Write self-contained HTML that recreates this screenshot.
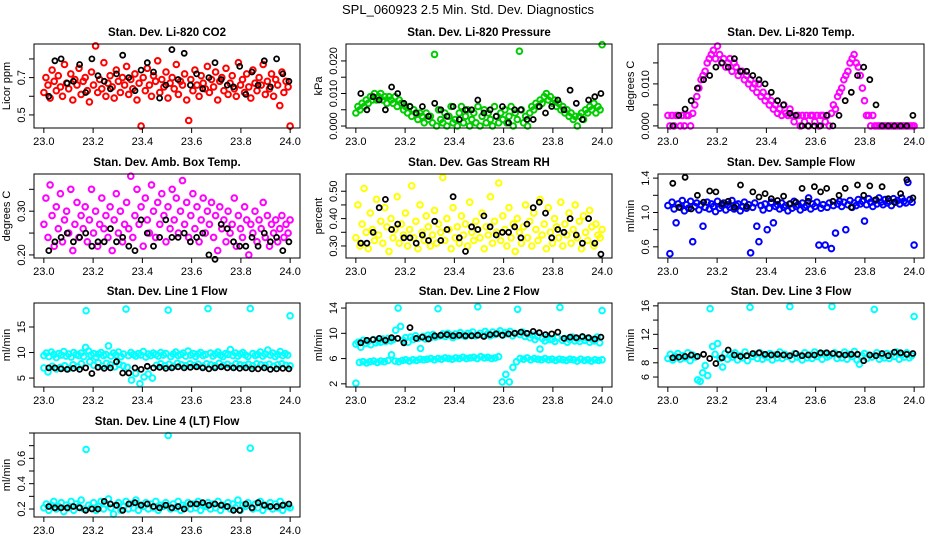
<!DOCTYPE html>
<html><head><meta charset="utf-8"><style>
html,body{margin:0;padding:0;background:#fff;}
svg{display:block;font-family:"Liberation Sans",Arial,sans-serif;}
</style></head><body>
<svg id="chart" width="936" height="540" viewBox="0 0 936 540">
<text x="468" y="14" text-anchor="middle" font-size="13">SPL_060923  2.5 Min. Std. Dev. Diagnostics</text>
</svg>
<script>
// ---- data ----
const xTicks = [23.0, 23.2, 23.4, 23.6, 23.8, 24.0];
const xTickLabels = ["23.0", "23.2", "23.4", "23.6", "23.8", "24.0"];

const co2Red = [0.62,0.70,0.66,0.59,0.74,0.68,0.63,0.71,0.65,0.60,0.77,0.67,0.64,0.72,0.58,0.69,0.66,0.75,0.61,0.68,
0.70,0.63,0.57,0.73,0.66,0.87,0.62,0.69,0.64,0.78,0.60,0.67,0.71,0.65,0.59,0.74,0.68,0.62,0.70,0.66,
0.76,0.61,0.69,0.64,0.72,0.58,0.67,0.44,0.70,0.63,0.75,0.66,0.60,0.71,0.68,0.79,0.62,0.69,0.65,0.73,
0.59,0.67,0.70,0.64,0.77,0.61,0.68,0.66,0.72,0.58,0.47,0.69,0.63,0.74,0.66,0.60,0.71,0.67,0.64,0.76,
0.62,0.69,0.65,0.73,0.58,0.68,0.70,0.63,0.75,0.61,0.67,0.71,0.64,0.60,0.78,0.66,0.69,0.62,0.72,0.65,
0.59,0.74,0.67,0.63,0.70,0.66,0.77,0.61,0.68,0.64,0.72,0.60,0.69,0.66,0.55,0.73,0.62,0.68,0.65,0.44];
const co2Black = [0.60,0.79,0.80,0.67,0.68,0.77,0.62,0.80,0.71,0.68,0.64,0.72,0.82,0.70,0.63,0.74,0.78,0.73,0.59,0.66,0.85,0.69,0.83,0.66,0.72,0.64,0.70,0.78,0.69,0.66,0.65,0.76,0.61,0.73,0.66,0.79,0.65,0.80,0.72,0.68];

const presGreen = [0.004,0.006,0.005,0.007,0.006,0.008,0.007,0.009,0.008,0.010,0.008,0.009,
0.010,0.008,0.009,0.007,0.009,0.008,0.007,0.009,0.006,0.008,0.007,0.005,
0.006,0.004,0.006,0.003,0.005,0.004,0.002,0.004,0.003,0.001,0.004,0.002,
0.003,0.001,0.022,0.000,0.005,0.002,0.001,0.004,0.000,0.003,0.006,0.001,
0.002,0.000,0.004,0.006,0.001,0.003,0.005,0.000,0.002,0.004,0.001,0.006,
0.000,0.003,0.005,0.001,0.004,0.002,0.000,0.006,0.003,0.001,0.004,0.002,
0.005,0.001,0.003,0.006,0.000,0.004,0.002,0.023,0.005,0.001,0.003,0.000,
0.004,0.006,0.005,0.007,0.006,0.008,0.007,0.009,0.010,0.008,0.009,0.007,
0.008,0.006,0.007,0.005,0.006,0.004,0.005,0.003,0.004,0.002,0.003,0.000,
0.003,0.004,0.002,0.005,0.004,0.006,0.005,0.007,0.004,0.006,0.005,0.025];
const presBlack = [0.010,0.005,0.009,0.008,0.005,0.012,0.010,0.007,0.006,0.004,0.006,0.003,0.007,0.005,0.003,0.006,0.002,0.005,0.005,0.008,0.004,0.005,0.003,0.006,0.001,0.005,0.005,0.002,0.002,0.006,0.004,0.006,0.008,0.005,0.011,0.007,0.002,0.008,0.009,0.010];

const tempMagenta = [0.0025,0,0.0025,0,0.0025,0.0025,0,0.0025,0,0.0025,0.0025,0,
0.003,0.005,0.007,0.009,0.011,0.012,0.013,0.015,0.016,0.017,0.018,0.016,
0.019,0.017,0.015,0.016,0.014,0.015,0.016,0.013,0.015,0.014,0.012,0.013,
0.013,0.011,0.012,0.010,0.011,0.009,0.010,0.008,0.010,0.007,0.008,0.006,
0.007,0.005,0.006,0.004,0.005,0.003,0.004,0.0025,0.005,0.003,0.0025,0.004,
0.0025,0.001,0.0025,0.0025,0,0.0025,0.001,0.0025,0,0.0025,0.0025,0.001,
0.0025,0,0.0025,0.0025,0.001,0.0025,0,0.003,0.005,0.004,0.007,0.008,
0.009,0.011,0.012,0.013,0.015,0.016,0.017,0.015,0.014,0.012,0.009,0.006,
0.0025,0.0025,0,0.0025,0,0,0,0,0,0,0,0,
0,0,0,0,0,0,0,0,0,0,0,0];
const tempBlack = [0,0.0025,0.004,0.006,0.009,0.011,0.012,0.014,0.015,0.014,0.016,0.013,0.013,0.012,0.011,0.010,0.008,0.006,0.005,0.003,0.0025,0,0,0,0,0.0025,0,0.0025,0.006,0.008,0.012,0.014,0.011,0.005,0,0,0,0,0,0.0025];

const ambMagenta = [0.27,0.33,0.24,0.36,0.29,0.22,0.31,0.26,0.34,0.23,0.28,0.30,0.25,0.35,0.21,0.27,0.32,0.24,0.29,0.26,
0.31,0.23,0.28,0.35,0.25,0.30,0.22,0.27,0.33,0.26,0.29,0.24,0.31,0.21,0.28,0.34,0.25,0.30,0.23,0.27,
0.32,0.26,0.38,0.24,0.29,0.35,0.27,0.31,0.22,0.33,0.28,0.25,0.36,0.30,0.24,0.32,0.27,0.34,0.29,0.23,
0.31,0.26,0.35,0.28,0.33,0.25,0.30,0.37,0.27,0.32,0.24,0.29,0.34,0.26,0.31,0.23,0.28,0.33,0.25,0.30,
0.27,0.32,0.24,0.29,0.21,0.31,0.26,0.28,0.23,0.30,0.25,0.27,0.33,0.22,0.29,0.26,0.24,0.31,0.28,0.20,
0.27,0.25,0.30,0.23,0.28,0.26,0.32,0.24,0.29,0.22,0.27,0.25,0.28,0.23,0.26,0.29,0.24,0.27,0.25,0.28];
const ambBlack = [0.21,0.23,0.24,0.25,0.23,0.24,0.25,0.22,0.23,0.23,0.26,0.23,0.24,0.22,0.21,0.28,0.25,0.22,0.24,0.28,0.24,0.24,0.25,0.23,0.24,0.25,0.20,0.19,0.27,0.26,0.23,0.22,0.22,0.24,0.22,0.25,0.23,0.24,0.21,0.23];

const rhYellow = [0.33,0.45,0.30,0.38,0.51,0.35,0.29,0.42,0.36,0.32,0.47,0.34,0.39,0.31,0.44,0.37,0.28,0.40,0.33,0.36,
0.48,0.31,0.38,0.34,0.42,0.30,0.36,0.52,0.33,0.39,0.29,0.45,0.35,0.32,0.41,0.37,0.30,0.34,0.43,0.31,
0.38,0.35,0.55,0.32,0.40,0.36,0.29,0.44,0.33,0.37,0.31,0.41,0.34,0.38,0.30,0.46,0.35,0.32,0.39,0.36,
0.33,0.42,0.29,0.37,0.34,0.48,0.31,0.39,0.35,0.53,0.32,0.41,0.36,0.30,0.44,0.33,0.38,0.28,0.40,0.35,
0.31,0.37,0.45,0.33,0.39,0.30,0.42,0.36,0.32,0.47,0.34,0.38,0.29,0.44,0.35,0.31,0.40,0.37,0.33,0.46,
0.30,0.38,0.34,0.42,0.31,0.36,0.45,0.33,0.39,0.29,0.41,0.35,0.32,0.43,0.37,0.30,0.38,0.34,0.33,0.36];
const rhBlack = [0.31,0.31,0.35,0.44,0.47,0.36,0.38,0.33,0.33,0.31,0.34,0.32,0.39,0.32,0.36,0.48,0.33,0.28,0.37,0.36,0.41,0.37,0.34,0.35,0.35,0.37,0.33,0.38,0.44,0.46,0.42,0.33,0.36,0.35,0.40,0.34,0.31,0.40,0.31,0.27];

const sampleBlue = [1.08,0.52,1.12,1.04,0.88,1.10,1.06,1.14,1.02,1.09,1.05,1.13,0.66,1.07,1.11,1.03,1.09,0.84,1.06,1.12,
1.04,1.10,1.07,1.01,1.13,1.05,1.08,1.11,1.03,1.09,1.06,1.14,1.04,1.08,1.10,1.02,1.07,1.12,1.05,1.09,
0.53,1.06,1.11,0.84,0.66,1.08,1.03,1.10,0.80,1.05,1.12,0.88,1.07,1.09,1.04,1.11,1.06,1.08,1.02,1.10,
1.05,1.13,1.07,1.09,1.03,1.11,1.06,1.08,1.17,1.04,1.10,1.07,1.12,0.62,1.05,1.09,0.62,1.06,1.11,0.58,
1.08,0.76,1.10,1.13,1.07,1.12,0.80,1.09,1.14,1.06,1.11,1.08,1.15,1.10,1.13,0.90,1.09,1.16,1.12,1.07,
1.14,1.10,1.17,1.12,1.09,1.15,1.11,1.13,1.08,1.16,1.12,1.14,1.10,1.17,1.13,1.11,1.35,1.15,1.12,0.62];
const sampleBlack = [1.34,1.06,1.41,1.04,1.20,1.12,1.25,1.24,1.10,1.13,1.06,1.32,1.07,1.24,1.18,1.22,1.16,1.14,1.19,1.10,1.12,1.28,1.13,1.30,1.24,1.28,1.13,1.20,1.28,1.06,1.32,1.20,1.31,1.15,1.30,1.16,1.12,1.22,1.38,1.17];

const line1CyanUpper = [9.4,9.9,9.2,10.1,9.6,9.0,9.8,9.5,10.2,9.3,9.7,9.1,10.0,9.6,9.4,9.9,9.2,18.2,10.3,9.5,
9.8,9.1,9.7,10.0,9.4,9.6,11.3,9.3,9.9,9.5,10.1,9.2,9.7,18.5,9.4,10.0,9.6,9.3,9.8,9.5,
10.2,9.1,9.7,9.4,9.9,9.6,9.3,10.0,9.5,9.8,18.3,9.2,9.7,10.1,9.4,9.6,9.9,9.3,10.3,9.5,
9.8,9.2,9.7,10.0,9.4,9.6,18.6,9.9,9.3,9.7,10.1,9.5,9.2,9.8,9.6,10.6,9.4,9.9,9.3,9.7,
10.0,9.5,9.2,18.6,9.8,9.4,9.6,10.1,9.3,9.7,10.5,9.5,9.9,9.2,9.6,10.2,9.4,9.8,9.5,17.2];
const line1CyanLower = [7.0,6.2,7.3,6.8,7.1,7.4,6.9,7.6,7.2,7.8,11.0,8.2,7.5,8.0,7.3,7.9,7.6,7.2,7.7,7.4,
7.1,4.6,5.9,3.9,5.2,5.8,5.0,7.5,7.8,7.4,7.7,7.3,7.9,7.6,7.4,7.8,7.5,7.7,7.3,7.8,
7.6,7.4,7.9,7.5,7.7,7.3,7.8,7.6,7.5,7.7,7.4,7.8,7.6,7.5,7.7,7.3,7.6,7.8,7.5,7.4];
const line1Black = [7.0,7.0,6.8,6.7,6.9,6.7,7.0,5.9,7.1,6.9,7.0,8.2,6.0,6.0,7.0,6.7,7.3,7.0,7.1,6.9,7.0,7.2,7.0,7.1,7.2,7.0,6.8,7.0,7.2,7.0,7.0,6.9,7.0,6.8,6.8,7.0,6.7,6.8,6.9,6.8];

const line2CyanUpper = [8.3,8.6,7.8,8.9,8.4,8.7,8.2,9.0,8.5,8.8,8.6,9.1,8.7,9.2,8.8,9.0,10.5,14.0,11.1,8.9,
9.3,8.6,9.4,9.0,9.6,9.2,7.6,9.5,9.1,9.7,9.3,9.8,9.4,13.9,9.6,9.9,9.5,10.0,9.7,9.3,
9.9,9.6,10.1,9.7,9.5,10.0,9.8,10.2,9.6,14.2,10.0,9.7,10.3,9.9,9.6,10.2,9.8,10.0,10.4,9.7,
10.1,9.9,10.3,9.6,10.0,13.8,9.8,10.2,9.5,9.9,9.3,9.7,9.0,9.5,7.5,9.2,8.8,9.4,9.0,9.1,
8.7,9.3,14.1,8.9,9.2,8.6,9.0,9.4,8.8,9.1,8.7,9.3,8.9,9.2,8.6,9.0,8.8,9.4,8.5,13.6];
const line2CyanLower = [2.1,5.4,5.5,5.3,5.5,5.6,5.4,5.6,5.5,5.7,6.6,5.6,5.5,5.7,5.8,5.6,5.8,5.7,5.9,5.8,
5.9,6.0,5.8,6.0,5.9,6.1,6.0,5.9,6.1,6.0,6.2,6.0,6.1,6.2,6.0,6.3,6.1,6.2,6.0,6.1,
6.3,2.3,3.5,2.3,4.6,5.5,6.0,5.9,6.1,5.8,6.0,5.9,5.8,6.0,5.8,5.9,5.7,5.9,5.8,5.7,
5.9,5.8,5.6,5.9,5.7,5.8,5.6,5.8,5.7,5.8];
const line2Black = [8.5,8.9,9.0,9.2,8.9,9.3,9.2,8.5,10.9,9.2,9.4,9.1,9.6,9.7,9.8,9.6,9.7,9.6,9.6,9.7,9.5,9.8,9.9,9.7,9.9,10.0,10.2,10.0,10.3,10.1,9.8,9.9,10.2,9.2,9.4,9.3,9.5,9.3,9.1,9.4];

const line3Cyan = [8.6,9.2,8.4,8.9,9.3,8.5,9.0,8.7,9.4,8.3,9.1,8.8,5.6,5.4,6.6,7.6,6.2,15.6,10.3,9.2,
10.7,8.6,7.4,9.3,8.5,9.1,8.8,9.4,8.4,9.0,8.7,9.5,8.3,15.8,8.9,9.2,8.6,9.4,8.5,9.0,
8.8,9.3,8.4,9.1,8.7,9.5,8.6,9.2,8.9,15.9,8.5,9.3,8.8,9.0,8.4,9.4,8.7,9.1,8.6,9.5,
8.9,9.2,8.5,9.3,8.8,9.0,15.9,9.4,8.6,9.1,8.7,9.5,8.5,9.2,8.9,9.6,8.4,7.8,9.0,9.3,
8.6,9.1,8.8,15.5,9.4,8.5,9.0,8.7,9.3,8.6,9.2,8.9,9.5,8.5,9.1,8.8,9.4,8.7,9.0,14.5];
const line3Black = [8.7,8.8,8.9,9.1,8.9,9.2,8.6,7.9,8.7,9.8,9.1,8.9,9.0,9.3,9.4,9.2,9.1,9.2,9.1,9.0,9.3,9.0,9.1,9.1,9.4,9.4,9.3,9.2,9.1,9.2,9.2,8.3,9.1,9.0,9.3,9.0,9.5,9.4,9.2,9.3];

const line4Cyan = [0.21,0.24,0.19,0.23,0.26,0.20,0.22,0.25,0.18,0.23,0.21,0.26,0.19,0.24,0.22,0.27,0.20,0.67,0.23,0.21,
0.25,0.19,0.22,0.26,0.20,0.24,0.28,0.21,0.16,0.23,0.25,0.19,0.22,0.26,0.20,0.24,0.21,0.27,0.19,0.23,
0.22,0.25,0.20,0.24,0.21,0.26,0.19,0.23,0.22,0.25,0.78,0.20,0.24,0.21,0.26,0.19,0.23,0.22,0.25,0.20,
0.24,0.21,0.26,0.19,0.23,0.22,0.25,0.20,0.24,0.21,0.26,0.19,0.23,0.22,0.25,0.20,0.24,0.21,0.27,0.19,
0.23,0.22,0.25,0.68,0.20,0.24,0.21,0.26,0.19,0.23,0.22,0.25,0.20,0.24,0.21,0.26,0.19,0.23,0.22,0.21];
const line4Black = [0.22,0.21,0.21,0.21,0.22,0.21,0.19,0.20,0.20,0.26,0.24,0.23,0.19,0.24,0.25,0.23,0.24,0.22,0.21,0.23,0.21,0.22,0.20,0.24,0.24,0.25,0.23,0.24,0.23,0.22,0.19,0.19,0.24,0.21,0.25,0.23,0.22,0.22,0.23,0.24];

const co2Ticks=[0.5,0.6,0.7,0.8], co2Labels=["0.5","","0.7",""];
const presTicks=[0,0.005,0.01,0.015,0.02], presLabels=["0.000","","0.010","","0.020"];
const tempTicks=[0,0.005,0.01,0.015], tempLabels=["0.000","","0.010",""];
const ambTicks=[0.2,0.25,0.3,0.35], ambLabels=["0.20","","0.30",""];
const rhTicks=[0.3,0.35,0.4,0.45,0.5], rhLabels=["0.30","","0.40","","0.50"];
const sampleTicks=[0.6,0.8,1.0,1.2,1.4], sampleLabels=["0.6","","1.0","","1.4"];
const line1Ticks=[5,10,15], line1Labels=["5","10","15"];
const line2Ticks=[2,6,10,14], line2Labels=["2","6","10","14"];
const line3Ticks=[6,8,10,12,14,16], line3Labels=["6","8","","12","","16"];
const line4Ticks=[0.2,0.3,0.4,0.5,0.6,0.7,0.8], line4Labels=["0.2","","0.4","","0.6","",""];

// ---- layout ----
const NS="http://www.w3.org/2000/svg";
const svg=document.getElementById('chart');
const COLX=[34,346,658], ROWY=[44,174,303,433], W=266, H=84;
const XMIN=22.96, XMAX=24.04;
const panels=[
 {name:"co2",title:"Stan. Dev. Li-820 CO2",ylab:"Licor ppm",c:0,r:0,y0:0.43,y1:0.88,ticks:co2Ticks,labels:co2Labels,series:[[co2Red,"#ff0000",0],[co2Black,"#000",1]]},
 {name:"pressure",title:"Stan. Dev. Li-820 Pressure",ylab:"kPa",c:1,r:0,y0:-0.0006,y1:0.0252,ticks:presTicks,labels:presLabels,series:[[presGreen,"#00cd00",0],[presBlack,"#000",1]]},
 {name:"temp",title:"Stan. Dev. Li-820 Temp.",ylab:"degrees C",c:2,r:0,y0:-0.0005,y1:0.0195,ticks:tempTicks,labels:tempLabels,series:[[tempMagenta,"#ff00ff",0],[tempBlack,"#000",1]]},
 {name:"amb-box-temp",title:"Stan. Dev. Amb. Box Temp.",ylab:"degrees C",c:0,r:1,y0:0.193,y1:0.385,ticks:ambTicks,labels:ambLabels,series:[[ambMagenta,"#ff00ff",0],[ambBlack,"#000",1]]},
 {name:"gas-stream-rh",title:"Stan. Dev. Gas Stream RH",ylab:"percent",c:1,r:1,y0:0.256,y1:0.563,ticks:rhTicks,labels:rhLabels,series:[[rhYellow,"#ffff00",0],[rhBlack,"#000",1]]},
 {name:"sample-flow",title:"Stan. Dev. Sample Flow",ylab:"ml/min",c:2,r:1,y0:0.47,y1:1.448,ticks:sampleTicks,labels:sampleLabels,series:[[sampleBlue,"#0000ff",0],[sampleBlack,"#000",1]]},
 {name:"line1-flow",title:"Stan. Dev. Line 1 Flow",ylab:"ml/min",c:0,r:2,y0:3.25,y1:19.7,ticks:line1Ticks,labels:line1Labels,series:[[line1CyanUpper,"#00ffff",0],[line1CyanLower,"#00ffff",0],[line1Black,"#000",1]]},
 {name:"line2-flow",title:"Stan. Dev. Line 2 Flow",ylab:"ml/min",c:1,r:2,y0:1.5,y1:14.8,ticks:line2Ticks,labels:line2Labels,series:[[line2CyanUpper,"#00ffff",0],[line2CyanLower,"#00ffff",0],[line2Black,"#000",1]]},
 {name:"line3-flow",title:"Stan. Dev. Line 3 Flow",ylab:"ml/min",c:2,r:2,y0:4.6,y1:16.4,ticks:line3Ticks,labels:line3Labels,series:[[line3Cyan,"#00ffff",0],[line3Black,"#000",1]]},
 {name:"line4-flow",title:"Stan. Dev. Line 4 (LT) Flow",ylab:"ml/min",c:0,r:3,y0:0.137,y1:0.8,ticks:line4Ticks,labels:line4Labels,series:[[line4Cyan,"#00ffff",0],[line4Black,"#000",1]]}
];
function el(tag,attrs,parent){const e=document.createElementNS(NS,tag);for(const k in attrs)e.setAttribute(k,attrs[k]);parent.appendChild(e);return e;}

panels.forEach(p=>{
  const L=COLX[p.c], T=ROWY[p.r];
  const sx=v=>L+(v-XMIN)/(XMAX-XMIN)*W;
  const sy=v=>T+H-(v-p.y0)/(p.y1-p.y0)*H;
  const g=el('g',{},svg);
  
  
  const tt=el('text',{x:L+W/2,y:T-8,'text-anchor':'middle','font-size':'11.5','font-weight':'bold'},g);
  tt.textContent=p.title;
  
  
  const pts=el('g',{fill:'none'},g);
  
  
  p.series.forEach(s=>{
    const vals=s[0], isBlack=s[2]===1, n=vals.length;
    const xa=isBlack?23.02:23.0, xb=isBlack?23.995:24.0;
    vals.forEach((v,i)=>{
      const xv=xa+(xb-xa)*i/(n-1);
      const c=el('circle',{cx:sx(xv).toFixed(1),cy:sy(v).toFixed(1),r:isBlack?'2.5':'2.8',stroke:s[1],'stroke-width':isBlack?'1.8':'2'},pts);
      
      
    });
  });
  const box=el('rect',{x:L,y:T,width:W,height:H,fill:'none',stroke:'#000','stroke-width':'1'},g);
  
  
  const xa=el('g',{},g);
  
  
  xTicks.forEach((t,i)=>{
    const x=sx(t);
    el('line',{x1:x,x2:x,y1:T+H,y2:T+H+5,stroke:'#000'},xa);
    const tx=el('text',{x:x,y:T+H+17,'text-anchor':'middle','font-size':'11'},xa);
    tx.textContent=xTickLabels[i];
  });
  const ya=el('g',{},g);
  
  
  p.ticks.forEach((t,i)=>{
    const y=sy(t);
    el('line',{x1:L-5,x2:L,y1:y,y2:y,stroke:'#000'},ya);
    if(p.labels[i]){
      const tx=el('text',{x:L-9,y:y,'text-anchor':'middle','font-size':'11',transform:`rotate(-90 ${L-9} ${y})`},ya);
      tx.textContent=p.labels[i];
    }
  });
  const yl=el('text',{x:L-24,y:T+H/2,'text-anchor':'middle','font-size':'11',transform:`rotate(-90 ${L-24} ${T+H/2})`},g);
  yl.textContent=p.ylab;
  
  
});
</script>
</body></html>
